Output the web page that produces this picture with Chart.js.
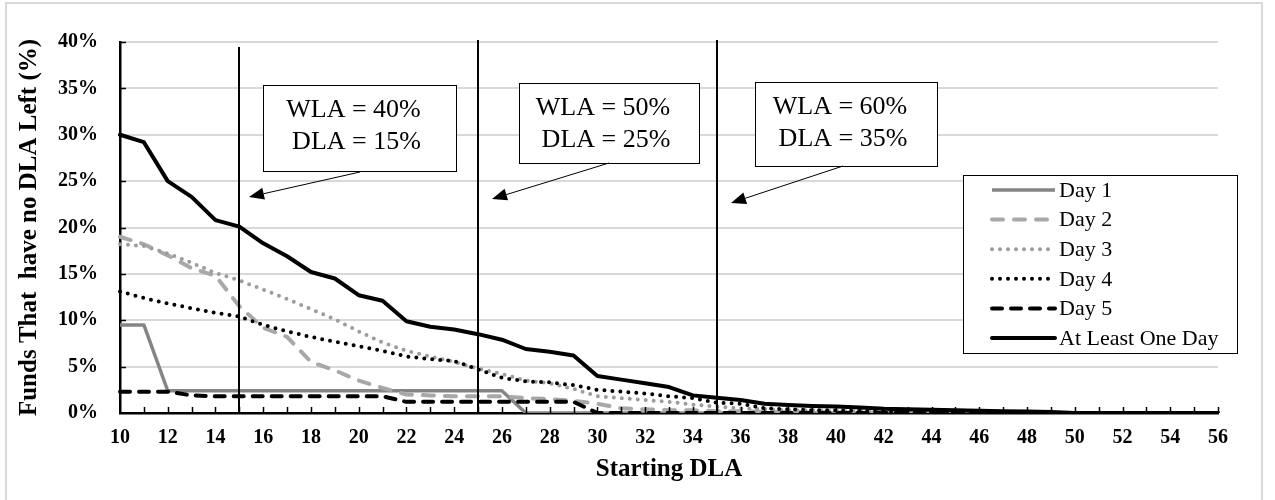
<!DOCTYPE html>
<html>
<head>
<meta charset="utf-8">
<script src="https://cdn.jsdelivr.net/npm/chart.js@4.4.1/dist/chart.umd.min.js"></script>
<style>
  body { margin: 0; background: #fff; }
  canvas { display: block; }
</style>
</head>
<body>
<canvas id="chart" width="1275" height="500"></canvas>
<script>
// starting DLA (x categories)
var startingDLA = [10, 11, 12, 13, 14, 15, 16, 17, 18, 19, 20, 21, 22, 23, 24, 25, 26, 27, 28, 29, 30, 31, 32,
                   33, 34, 35, 36, 37, 38, 39, 40, 41, 42, 43, 44, 45, 46, 47, 48, 49, 50, 51, 52, 53, 54, 55, 56];

// share of funds with no DLA left, in %
var day1 = [9.5, 9.5, 2.4, 2.4, 2.4, 2.4, 2.4, 2.4, 2.4, 2.4, 2.4, 2.4, 2.4, 2.4, 2.4, 2.4, 2.4, 0, 0, 0, 0, 0, 0,
            0, 0, 0, 0, 0, 0, 0, 0, 0, 0, 0, 0, 0, 0, 0, 0, 0, 0, 0, 0, 0, 0, 0, 0];
var day2 = [19.0, 18.2, 17.0, 15.6, 14.8, 11.5, 9.2, 8.2, 5.5, 4.6, 3.5, 2.7, 2.0, 1.9, 1.8, 1.8, 1.8, 1.6, 1.5, 1.3, 1.0, 0.5, 0.4,
            0.3, 0.3, 0.2, 0.2, 0.1, 0.1, 0.1, 0.1, 0, 0, 0, 0, 0, 0, 0, 0, 0, 0, 0, 0, 0, 0, 0, 0];
var day3 = [18.2, 18.0, 17.2, 16.2, 15.1, 14.3, 13.3, 12.3, 11.2, 10.1, 8.8, 7.6, 6.7, 6.1, 5.5, 4.8, 4.2, 3.5, 3.2, 2.6, 1.8, 1.6, 1.4,
            1.2, 0.9, 0.7, 0.5, 0.4, 0.3, 0.3, 0.2, 0.2, 0.1, 0.1, 0.1, 0, 0, 0, 0, 0, 0, 0, 0, 0, 0, 0, 0];
var day4 = [13.1, 12.4, 11.8, 11.3, 10.8, 10.4, 9.5, 8.8, 8.2, 7.7, 7.2, 6.7, 6.1, 5.8, 5.6, 4.7, 3.8, 3.4, 3.3, 3.0, 2.5, 2.3, 2.1,
            1.8, 1.6, 1.1, 1.0, 0.5, 0.4, 0.3, 0.3, 0.2, 0.2, 0.1, 0.1, 0.1, 0, 0, 0, 0, 0, 0, 0, 0, 0, 0, 0];
var day5 = [2.3, 2.3, 2.3, 1.9, 1.8, 1.8, 1.8, 1.8, 1.8, 1.8, 1.8, 1.8, 1.2, 1.2, 1.2, 1.2, 1.2, 1.2, 1.2, 1.2, 0, 0, 0,
            0, 0, 0, 0, 0, 0, 0, 0, 0, 0, 0, 0, 0, 0, 0, 0, 0, 0, 0, 0, 0, 0, 0, 0];
var atLeastOneDay = [30.0, 29.2, 25.0, 23.3, 20.8, 20.1, 18.3, 16.9, 15.2, 14.5, 12.7, 12.1, 9.9, 9.3, 9.0, 8.5, 7.9, 6.9, 6.6, 6.2, 4.0, 3.6, 3.2,
                     2.8, 1.9, 1.65, 1.4, 1.0, 0.85, 0.75, 0.7, 0.6, 0.45, 0.4, 0.35, 0.3, 0.25, 0.2, 0.15, 0.1, 0, 0, 0, 0, 0, 0, 0];

var yTicks = [0, 5, 10, 15, 20, 25, 30, 35, 40];

// marker lines and their notes
var markerDLA = [15, 25, 35];
var markerWLA = ['WLA = 40%', 'WLA = 50%', 'WLA = 60%'];
var markerText = ['DLA = 15%', 'DLA = 25%', 'DLA = 35%'];

var serif = '"Liberation Serif", "Times New Roman", serif';

var datasets = [
    { label: 'Day 1', data: day1, borderColor: '#858585', borderWidth: 3.5, borderDash: [], borderCapStyle: 'butt', order: 6 },
    { label: 'Day 2', data: day2, borderColor: '#a8a8a8', borderWidth: 4, borderDash: [11, 11], borderCapStyle: 'round', order: 5 },
    { label: 'Day 3', data: day3, borderColor: '#9c9c9c', borderWidth: 4, borderDash: [0, 8], borderCapStyle: 'round', order: 4 },
    { label: 'Day 4', data: day4, borderColor: '#000000', borderWidth: 4, borderDash: [0, 8], borderCapStyle: 'round', order: 3 },
    { label: 'Day 5', data: day5, borderColor: '#000000', borderWidth: 4, borderDash: [10, 9], borderCapStyle: 'round', order: 2 },
    { label: 'At Least One Day', data: atLeastOneDay, borderColor: '#000000', borderWidth: 4, borderDash: [], borderCapStyle: 'round', order: 1 }
];
datasets.forEach(function (d) {
    d.fill = false;
    d.pointRadius = 0;
    d.tension = 0;
    d.borderJoinStyle = 'round';
});

var decorations = {
    id: 'decorations',
    beforeDraw: function (chart) {
        var ctx = chart.ctx;
        ctx.save();
        ctx.fillStyle = '#fff';
        ctx.fillRect(0, 0, chart.width, chart.height);
        ctx.strokeStyle = '#d9d9d9';
        ctx.lineWidth = 2;
        ctx.strokeRect(6, 3, 1256, 510);
        ctx.restore();
    },
    afterDraw: function (chart) {
        var ctx = chart.ctx;
        var xs = chart.scales.x, ys = chart.scales.y;
        var area = chart.chartArea;
        ctx.save();

        // small inside tick marks
        ctx.strokeStyle = '#000';
        ctx.lineWidth = 1.5;
        ctx.beginPath();
        for (var i = 1; i < startingDLA.length; i++) {
            var tx = Math.round(xs.getPixelForValue(i)) + 0.5;
            ctx.moveTo(tx, area.bottom);
            ctx.lineTo(tx, area.bottom - 6);
        }
        yTicks.forEach(function (v) {
            if (v === 0) return;
            var ty = Math.round(ys.getPixelForValue(v)) + 0.5;
            ctx.moveTo(area.left, ty);
            ctx.lineTo(area.left + 6, ty);
        });
        ctx.stroke();

        // vertical marker lines
        var lineTops = [47, 40, 40];
        ctx.lineWidth = 2;
        markerDLA.forEach(function (v, k) {
            var lx = Math.round(xs.getPixelForValue(startingDLA.indexOf(v)));
            ctx.beginPath();
            ctx.moveTo(lx, lineTops[k]);
            ctx.lineTo(lx, area.bottom);
            ctx.stroke();
        });

        // note boxes with arrows
        var boxes = [
            { x: 263, y: 85, w: 193, h: 86, tail: [360, 172], head: [249, 197] },
            { x: 519, y: 83, w: 180, h: 80, tail: [609, 163], head: [492, 199] },
            { x: 755, y: 82, w: 182, h: 84, tail: [843, 166], head: [731, 203] }
        ];
        boxes.forEach(function (b, k) {
            ctx.fillStyle = '#fff';
            ctx.fillRect(b.x, b.y, b.w, b.h);
            ctx.strokeStyle = '#000';
            ctx.lineWidth = 1;
            ctx.strokeRect(b.x + 0.5, b.y + 0.5, b.w, b.h);
            ctx.fillStyle = '#000';
            ctx.font = '26px ' + serif;
            ctx.textAlign = 'center';
            ctx.textBaseline = 'alphabetic';
            var cx = b.x + b.w / 2 - 6;
            ctx.fillText(markerWLA[k], cx, b.y + 32);
            ctx.fillText(markerText[k], cx + 3, b.y + 64);

            // arrow
            var dx = b.head[0] - b.tail[0], dy = b.head[1] - b.tail[1];
            var len = Math.sqrt(dx * dx + dy * dy), ux = dx / len, uy = dy / len;
            var al = 15, aw = 6;
            ctx.beginPath();
            ctx.moveTo(b.tail[0], b.tail[1]);
            ctx.lineTo(b.head[0] - ux * al, b.head[1] - uy * al);
            ctx.stroke();
            ctx.beginPath();
            ctx.moveTo(b.head[0], b.head[1]);
            ctx.lineTo(b.head[0] - ux * al - uy * aw, b.head[1] - uy * al + ux * aw);
            ctx.lineTo(b.head[0] - ux * al + uy * aw, b.head[1] - uy * al - ux * aw);
            ctx.closePath();
            ctx.fill();
        });

        // legend
        var lx0 = 963, ly0 = 175, lw = 274, lh = 178;
        ctx.fillStyle = '#fff';
        ctx.fillRect(lx0, ly0, lw, lh);
        ctx.strokeStyle = '#000';
        ctx.lineWidth = 1;
        ctx.strokeRect(lx0 + 0.5, ly0 + 0.5, lw, lh);
        ctx.font = '22px ' + serif;
        ctx.textAlign = 'left';
        ctx.textBaseline = 'middle';
        datasets.forEach(function (d, k) {
            var ry = 190 + k * 29.6;
            ctx.save();
            ctx.strokeStyle = d.borderColor;
            ctx.lineWidth = d.borderWidth;
            ctx.lineCap = d.borderCapStyle;
            ctx.setLineDash(d.borderDash);
            ctx.beginPath();
            ctx.moveTo(992, ry);
            ctx.lineTo(1055, ry);
            ctx.stroke();
            ctx.restore();
            ctx.fillStyle = '#000';
            ctx.fillText(d.label, 1059, ry + 1);
        });
        ctx.restore();
    }
};

new Chart(document.getElementById('chart').getContext('2d'), {
    type: 'line',
    data: { labels: startingDLA, datasets: datasets },
    options: {
        responsive: false,
        animation: false,
        layout: { padding: { left: 0, right: 57, top: 42, bottom: 0 } },
        plugins: { legend: { display: false }, tooltip: { enabled: false } },
        scales: {
            x: {
                offset: false,
                grid: { drawOnChartArea: false, drawTicks: false },
                border: { display: true, color: '#000', width: 2.5 },
                ticks: {
                    autoSkip: false, maxRotation: 0, padding: 13, color: '#000',
                    font: { family: serif, size: 20, weight: 'bold' },
                    callback: function (v, i) { return startingDLA[i] % 2 === 0 ? String(startingDLA[i]) : ''; }
                },
                title: { display: true, text: 'Starting DLA', color: '#000',
                         font: { family: serif, size: 25, weight: 'bold' }, padding: { top: 0, bottom: 15 } },
                afterFit: function (s) { s.height = 87; }
            },
            y: {
                min: 0, max: 40,
                grid: { color: '#d9d9d9', lineWidth: 2, drawTicks: false },
                border: { display: true, color: '#000', width: 2.5 },
                ticks: {
                    stepSize: 5, padding: 22, color: '#000',
                    font: { family: serif, size: 20, weight: 'bold' },
                    callback: function (v) { return v + '%'; }
                },
                title: { display: true, text: 'Funds That  have no DLA Left (%)', color: '#000',
                         font: { family: serif, size: 25, weight: 'bold' }, padding: { top: 15, bottom: 0 } },
                afterFit: function (s) { s.width = 120; }
            }
        }
    },
    plugins: [decorations]
});
</script>
</body>
</html>
